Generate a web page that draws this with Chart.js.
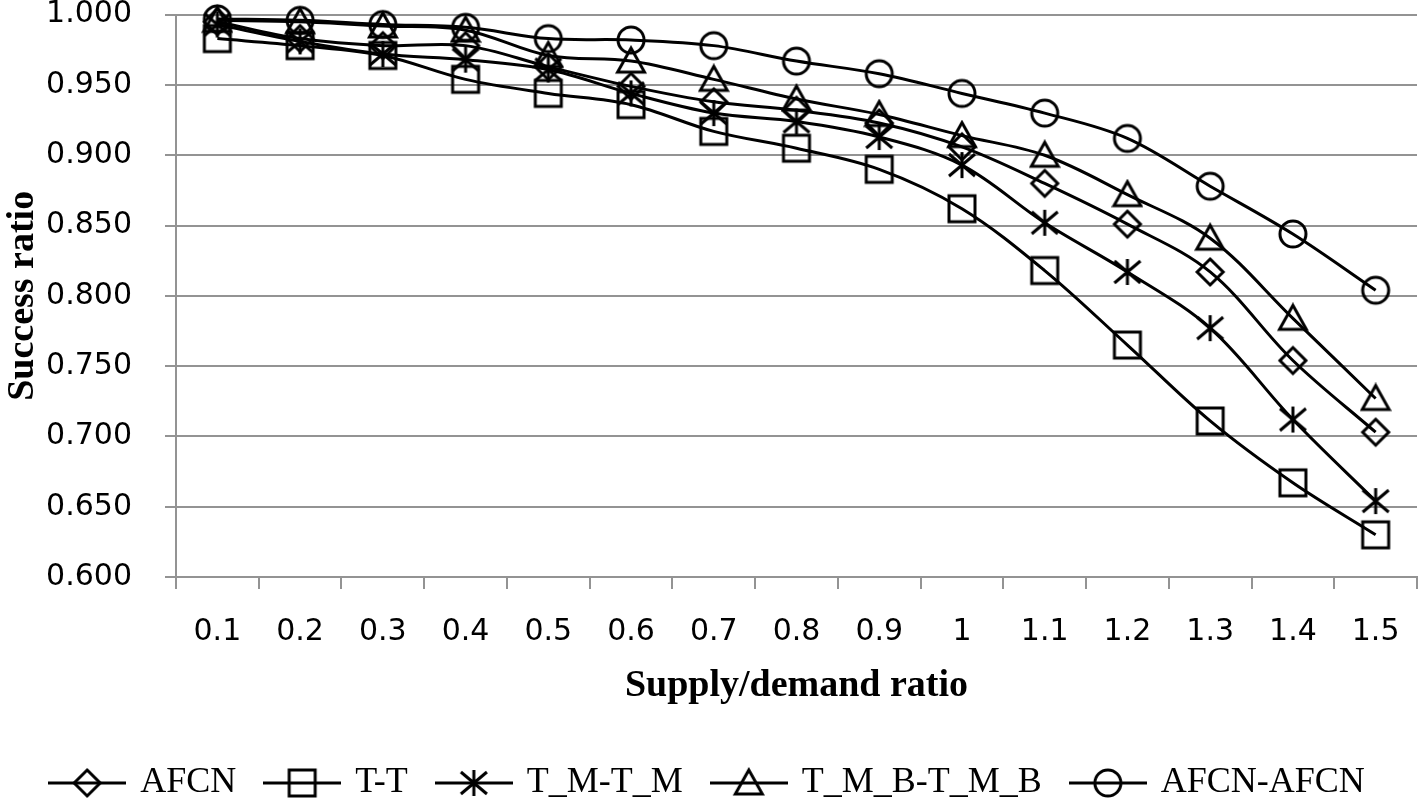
<!DOCTYPE html>
<html>
<head>
<meta charset="utf-8">
<script src="https://cdn.jsdelivr.net/npm/chart.js@4.4.1/dist/chart.umd.min.js"></script>
<style>
  html, body { margin: 0; padding: 0; background: #fff; }
  #wrap { width: 1424px; height: 804px; }
</style>
</head>
<body>
<div id="wrap"><canvas id="c" width="1424" height="804"></canvas></div>
<script>
// ---- data ----
const categories = ['0.1','0.2','0.3','0.4','0.5','0.6','0.7','0.8','0.9','1','1.1','1.2','1.3','1.4','1.5'];
const seriesNames = ['AFCN', 'T-T', 'T_M-T_M', 'T_M_B-T_M_B', 'AFCN-AFCN'];
const afcn     = [0.995, 0.983, 0.978, 0.978, 0.963, 0.949, 0.938, 0.932, 0.923, 0.906, 0.880, 0.851, 0.817, 0.754, 0.703];
const tt       = [0.983, 0.978, 0.971, 0.954, 0.944, 0.936, 0.917, 0.905, 0.890, 0.862, 0.818, 0.765, 0.711, 0.667, 0.630];
const tmtm     = [0.993, 0.981, 0.972, 0.968, 0.961, 0.944, 0.930, 0.924, 0.913, 0.893, 0.852, 0.817, 0.777, 0.712, 0.654];
const tmbtmb   = [0.996, 0.995, 0.992, 0.989, 0.971, 0.967, 0.954, 0.940, 0.929, 0.914, 0.900, 0.872, 0.841, 0.784, 0.727];
const afcnafcn = [0.997, 0.996, 0.993, 0.991, 0.983, 0.982, 0.978, 0.967, 0.958, 0.944, 0.930, 0.912, 0.878, 0.844, 0.804];
const yMin = 0.6, yMax = 1.0, yStep = 0.05;
const markerKinds = ['diamond', 'square', 'star', 'triangle', 'circle'];

// ---- marker images ----
function makeMarker(kind, w, h, withLine) {
  const c = document.createElement('canvas');
  c.width = w; c.height = h;
  const g = c.getContext('2d');
  g.strokeStyle = '#000';
  g.lineWidth = 3;
  const cx = w / 2, cy = h / 2;
  if (withLine) { g.beginPath(); g.moveTo(0, cy); g.lineTo(w, cy); g.stroke(); }
  g.beginPath();
  switch (kind) {
    case 'diamond':
      g.moveTo(cx, cy - 13); g.lineTo(cx + 13, cy); g.lineTo(cx, cy + 13); g.lineTo(cx - 13, cy); g.closePath(); break;
    case 'square':
      g.rect(cx - 13, cy - 13, 26, 26); break;
    case 'star':
      g.moveTo(cx, cy - 13); g.lineTo(cx, cy + 13);
      g.moveTo(cx - 13, cy - 11); g.lineTo(cx + 13, cy + 11);
      g.moveTo(cx - 13, cy + 11); g.lineTo(cx + 13, cy - 11); break;
    case 'triangle':
      g.moveTo(cx, cy - 13); g.lineTo(cx + 13.5, cy + 11); g.lineTo(cx - 13.5, cy + 11); g.closePath(); break;
    case 'circle':
      g.arc(cx, cy, 13, 0, Math.PI * 2); break;
  }
  g.stroke();
  return c;
}
const plotMarkers = markerKinds.map(k => makeMarker(k, 32, 32, false));
const legendMarkers = markerKinds.map(k => makeMarker(k, 78, 32, true));

const seriesValues = [afcn, tt, tmtm, tmbtmb, afcnafcn];
const datasets = seriesValues.map((vals, i) => ({
  label: seriesNames[i],
  data: vals,
  borderColor: '#000',
  backgroundColor: '#000',
  borderWidth: 3,
  tension: 0.35,
  pointStyle: plotMarkers[i],
  pointRadius: 13,
  pointHoverRadius: 13,
  clip: false,
  fill: false
}));

const gridGray = '#939393';

new Chart(document.getElementById('c'), {
  type: 'line',
  data: { labels: categories, datasets },
  options: {
    responsive: false,
    animation: false,
    devicePixelRatio: 1,
    layout: { autoPadding: false, padding: { left: 0, right: 7, top: 0, bottom: -7 } },
    plugins: {
      tooltip: { enabled: false },
      legend: {
        position: 'bottom',
        labels: {
          usePointStyle: true,
          pointStyleWidth: 70,
          padding: 31,
          color: '#000',
          font: { family: "'Liberation Serif', 'Times New Roman', serif", size: 36 },
          generateLabels: (chart) => chart.data.datasets.map((ds, i) => ({
            text: ds.label,
            pointStyle: legendMarkers[i],
            fillStyle: '#000',
            strokeStyle: '#000',
            lineWidth: 0,
            hidden: false,
            datasetIndex: i,
            fontColor: '#000'
          }))
        }
      }
    },
    scales: {
      x: {
        type: 'category',
        offset: true,
        afterFit: (s) => { s.height = 157; s.paddingLeft = 0; s.paddingRight = 0; },
        grid: { display: true, drawOnChartArea: false, drawTicks: true, tickLength: 12, offset: true, color: gridGray, lineWidth: 2 },
        border: { display: true, color: gridGray, width: 2 },
        ticks: { color: '#000', padding: 25, maxRotation: 0, autoSkip: false,
          font: { family: "'DejaVu Sans', sans-serif", size: 30 } },
        title: { display: true, text: 'Supply/demand ratio', color: '#000',
          padding: { top: 13, bottom: 25 },
          font: { family: "'Liberation Serif', 'Times New Roman', serif", size: 38, weight: 'bold' } }
      },
      y: {
        min: yMin, max: yMax,
        afterFit: (s) => { s.width = 176; s.paddingTop = 14.7; s.paddingBottom = 0; },
        grid: { color: gridGray, lineWidth: 2, tickLength: 11 },
        border: { display: true, color: gridGray, width: 2 },
        ticks: { stepSize: yStep, color: '#000', padding: 33,
          callback: (v) => Number(v).toFixed(3),
          font: { family: "'DejaVu Sans', sans-serif", size: 30, lineHeight: 0.98 } },
        title: { display: true, text: 'Success ratio', color: '#000', padding: { top: 0, bottom: 0 },
          font: { family: "'Liberation Serif', 'Times New Roman', serif", size: 38, weight: 'bold' } }
      }
    }
  }
});
</script>
</body>
</html>
